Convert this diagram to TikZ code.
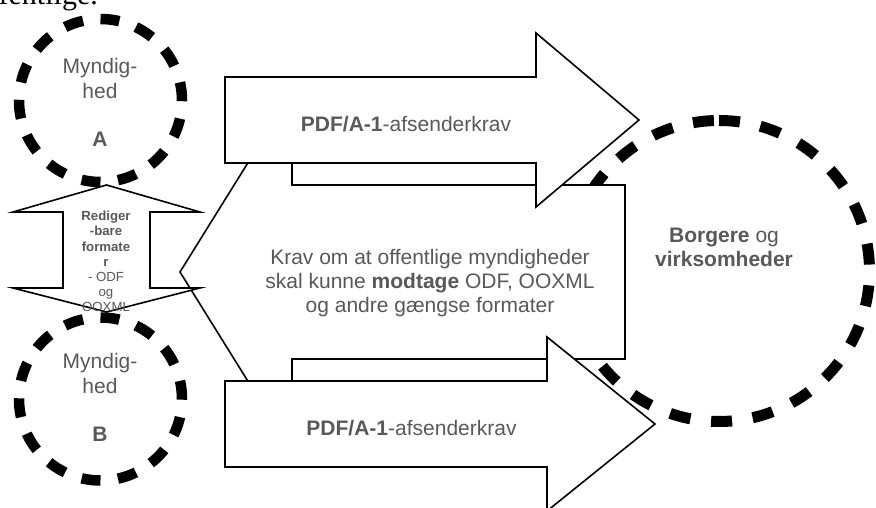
\documentclass[tikz,border=0pt]{standalone}
\usepackage{fontspec}
\setmainfont{Liberation Sans}
\newfontfamily\bodyserif{Liberation Serif}
\definecolor{txtgray}{RGB}{89,89,89}
\begin{document}
\begin{tikzpicture}[x=1pt,y=-1pt,
  shapebox/.style={draw=black, line width=1.6pt, fill=white, line join=miter},
  smallring/.style={draw=black, line width=10.5pt, dash pattern=on 19pt off 17.58pt},
  bigring/.style={draw=black, line width=11pt, dash pattern=on 21pt off 20.8pt},
  bigtxt/.style={font=\fontsize{21}{24.2}\selectfont, text=txtgray, align=center, inner sep=0pt},
  smalltxt/.style={font=\fontsize{13.2}{15.2}\selectfont, text=txtgray, align=center, inner sep=0pt}]
\useasboundingbox (0,0) rectangle (876,508);
\fill[white] (0,0) rectangle (876,508);

% cut-off body text at the top
\node[anchor=base east, inner sep=0pt, font=\bodyserif\fontsize{30}{36}\selectfont] (pagetext) at (98,5) {offentlige.};

% big dashed circle (behind the arrows)
\draw[bigring] (719,271) ++(0,-150.5) arc[start angle=-90, end angle=270, radius=150.5];

% middle, left-pointing arrow
\draw[shapebox] (180,272) -- (292,92) -- (292,185) -- (625,185) -- (625,359) -- (292,359) -- (292,452) -- cycle;

% top arrow
\draw[shapebox] (225,77) -- (536,77) -- (536,33) -- (639,120) -- (536,207) -- (536,163) -- (225,163) -- cycle;
% bottom arrow
\draw[shapebox] (225,381) -- (547,381) -- (547,337) -- (655,424) -- (547,511) -- (547,467) -- (225,467) -- cycle;

% vertical double arrow
\draw[shapebox] (106.5,185) -- (200,212) -- (150,212) -- (150,288) -- (200,288) -- (106.5,312)
  -- (13,288) -- (63,288) -- (63,212) -- (13,212) -- cycle;

% small dashed circles
\draw[smallring] (100.5,100.5) ++(0,-81.5) arc[start angle=-90, end angle=270, radius=81.5];
\draw[smallring] (100.5,399) ++(0,-81.5) arc[start angle=-90, end angle=270, radius=81.5];

% texts
\node[bigtxt, anchor=base] (toplabel) at (406,132) {\textbf{PDF/A-1}-afsenderkrav};
\node[bigtxt, anchor=base] (bottomlabel) at (411.5,435) {\textbf{PDF/A-1}-afsenderkrav};
\node[bigtxt] (midlabel) at (430,283.2) {Krav om at offentlige myndigheder\\skal kunne \textbf{modtage} ODF, OOXML\\og andre gængse formater};
\node[bigtxt] (citizens) at (724,247.7) {\textbf{Borgere} og\\\textbf{virksomheder}};
\node[bigtxt] (authA) at (100,102.6) {Myndig-\\hed\\[24.2pt]\textbf{A}};
\node[bigtxt] (authB) at (100,397.6) {Myndig-\\hed\\[24.2pt]\textbf{B}};
\node[smalltxt] (editable) at (106,261.5) {\textbf{Rediger}\\\textbf{-bare}\\\textbf{formate}\\\textbf{r}\\- ODF\\og\\OOXML};
\end{tikzpicture}
\end{document}
